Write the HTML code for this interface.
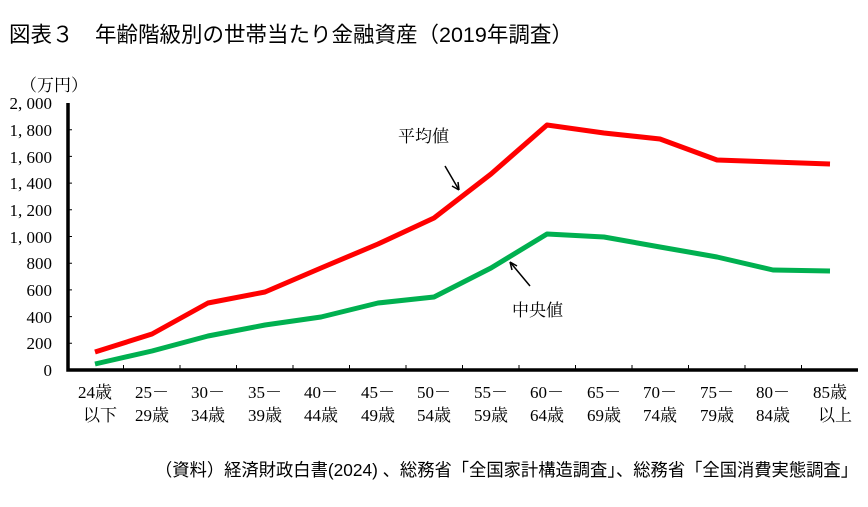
<!DOCTYPE html>
<html><head><meta charset="utf-8"><style>
body{margin:0;background:#fff;}
svg{display:block}
.s{font-family:"Liberation Serif","Noto Serif CJK SC",serif;font-size:17px;fill:#000}
.g{font-family:"Liberation Sans","Noto Sans CJK JP",sans-serif;fill:#000}
</style></head><body>
<svg width="868" height="507" viewBox="0 0 868 507">
<text class="g" x="9" y="42" font-size="21.5">図表３　年齢階級別の世帯当たり金融資産（2019年調査）</text>
<text class="s" x="20" y="91" font-size="16">（万円）</text>
<g class="s" text-anchor="end" font-size="17">
<text x="52" y="376">0</text><text x="52" y="349">200</text><text x="52" y="323">400</text><text x="52" y="296">600</text><text x="52" y="269">800</text><text x="52" y="243">1, 000</text><text x="52" y="216">1, 200</text><text x="52" y="189">1, 400</text><text x="52" y="163">1, 600</text><text x="52" y="136">1, 800</text><text x="52" y="109">2, 000</text>
</g>
<g stroke="#000" stroke-width="1">
<path d="M67 343.3h5M67 316.6h5M67 289.9h5M67 263.2h5M67 236.5h5M67 209.8h5M67 183.1h5M67 156.4h5M67 129.7h5"/>
<path d="M123.5 370v-5M180 370v-5M236.5 370v-5M293 370v-5M349.5 370v-5M406 370v-5M462.5 370v-5M519 370v-5M575.5 370v-5M632 370v-5M688.5 370v-5M745 370v-5M801.5 370v-5"/>
</g>
<path d="M68 103V370H858" fill="none" stroke="#000" stroke-width="3.5"/>
<polyline fill="none" stroke="#f00" stroke-width="5" stroke-linejoin="round" points="95,352 152,334 208,303 265,292 321,268 378,244 434,218 491,174 547,125 604,133 660,139 717,160 773,162 830,164"/>
<polyline fill="none" stroke="#00b050" stroke-width="5" stroke-linejoin="round" points="95,364 152,351 208,336 265,325 321,317 378,303 434,297 491,268 547,234 604,237 660,247 717,257 773,270 830,271"/>
<text class="s" x="398" y="142">平均値</text>
<path d="M445 166L459 190" stroke="#000" stroke-width="1.5"/><path d="M459 190l-1-8m1 8l-7-4" stroke="#000" stroke-width="1.5" fill="none"/>
<text class="s" x="512" y="316">中央値</text>
<path d="M530 286L510 262" stroke="#000" stroke-width="1.5"/><path d="M510 262l2 8m-2-8l7 4" stroke="#000" stroke-width="1.5" fill="none"/>
<g class="s" text-anchor="middle">
<text x="95" y="398">24歳</text><text x="100" y="421">以下</text>
<text x="152" y="398">25－</text><text x="152" y="421">29歳</text>
<text x="208" y="398">30－</text><text x="208" y="421">34歳</text>
<text x="265" y="398">35－</text><text x="265" y="421">39歳</text>
<text x="321" y="398">40－</text><text x="321" y="421">44歳</text>
<text x="378" y="398">45－</text><text x="378" y="421">49歳</text>
<text x="434" y="398">50－</text><text x="434" y="421">54歳</text>
<text x="491" y="398">55－</text><text x="491" y="421">59歳</text>
<text x="547" y="398">60－</text><text x="547" y="421">64歳</text>
<text x="604" y="398">65－</text><text x="604" y="421">69歳</text>
<text x="660" y="398">70－</text><text x="660" y="421">74歳</text>
<text x="717" y="398">75－</text><text x="717" y="421">79歳</text>
<text x="773" y="398">80－</text><text x="773" y="421">84歳</text>
<text x="830" y="398">85歳</text><text x="835" y="421">以上</text>
</g>
<text class="g" x="858" y="476" text-anchor="end" font-size="17.5" textLength="703" lengthAdjust="spacingAndGlyphs">（資料）経済財政白書(2024) 、総務省「全国家計構造調査」、総務省「全国消費実態調査」</text>
</svg>
</body></html>
